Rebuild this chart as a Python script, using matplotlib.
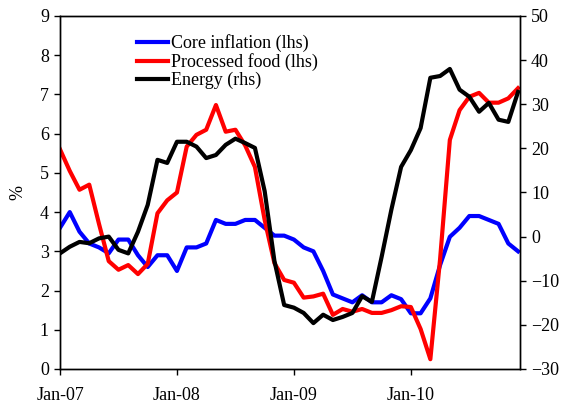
import matplotlib
matplotlib.use('Agg')
import matplotlib.pyplot as plt

# Dane miesieczne Jan-07 .. Dec-10
miesiace = list(range(48))
etykiety_x = ['Jan-07', 'Jan-08', 'Jan-09', 'Jan-10']
pozycje_x = [0, 12, 24, 36]

core = [3.6, 4.0, 3.5, 3.2, 3.1, 2.95, 3.3, 3.3, 2.9, 2.6, 2.9, 2.9,
        2.5, 3.1, 3.1, 3.2, 3.8, 3.7, 3.7, 3.8, 3.8, 3.6, 3.4, 3.4,
        3.3, 3.1, 3.0, 2.5, 1.9, 1.8, 1.7, 1.88, 1.7, 1.7, 1.88, 1.78,
        1.42, 1.42, 1.8, 2.65, 3.37, 3.6, 3.9, 3.9, 3.8, 3.7, 3.2, 3.0]

food = [5.6, 5.05, 4.57, 4.7, 3.7, 2.75, 2.53, 2.65, 2.42, 2.68, 3.97, 4.3,
        4.5, 5.67, 5.97, 6.1, 6.73, 6.05, 6.1, 5.7, 5.15, 3.8, 2.7, 2.27,
        2.2, 1.82, 1.85, 1.92, 1.38, 1.53, 1.46, 1.53, 1.43, 1.43, 1.5, 1.6,
        1.58, 1.02, 0.25, 2.8, 5.84, 6.6, 6.94, 7.04, 6.79, 6.79, 6.9, 7.16]

energy = [-3.8, -2.3, -1.2, -1.5, -0.4, 0.0, -3.0, -3.8, 1.1, 7.2, 17.4, 16.7,
          21.5, 21.5, 20.4, 17.8, 18.5, 20.8, 22.2, 21.2, 20.1, 10.3, -5.5, -15.5,
          -16.1, -17.3, -19.6, -17.7, -18.9, -18.2, -17.3, -13.5, -14.8, -4.6, 6.1, 15.8,
          19.6, 24.6, 36.0, 36.4, 38.0, 33.3, 31.7, 28.3, 30.3, 26.5, 26.0, 32.8]

plt.rcParams['font.family'] = ['Liberation Serif', 'DejaVu Serif']
plt.rcParams['font.size'] = 13

fig = plt.figure(figsize=(5.64, 4.08), dpi=100)
ax = fig.add_axes([0.1064, 0.0956, 0.8156, 0.8652])

l1, = ax.plot(miesiace, core, color='#0000ff', lw=3, label='Core inflation (lhs)')
l2, = ax.plot(miesiace, food, color='#ff0000', lw=3, label='Processed food (lhs)')
ax.set_ylim(0, 9)
ax.set_yticks(range(0, 10))
ax.set_xlim(0, 47.2)
ax.set_xticks(pozycje_x)
ax.set_xticklabels(etykiety_x)
ax.set_ylabel('%', labelpad=10)
ax.tick_params(direction='out', length=4, width=1, pad=4)
ax.tick_params(axis='x', pad=9)

ax2 = ax.twinx()
l3, = ax2.plot(miesiace, energy, color='black', lw=3, label='Energy (rhs)')
ax2.set_ylim(-30, 50)
ax2.set_yticks(range(-30, 51, 10))
ax2.tick_params(direction='out', length=4, width=1, pad=4)

for a in (ax, ax2):
    for s in a.spines.values():
        s.set_linewidth(1)

ax2.legend(handles=[l1, l2, l3], loc='upper left', bbox_to_anchor=(0.167, 0.948),
           frameon=False, handlelength=1.75, handletextpad=0.15, labelspacing=0.05,
           borderaxespad=0, borderpad=0)

fig.savefig('out.png', dpi=100)
